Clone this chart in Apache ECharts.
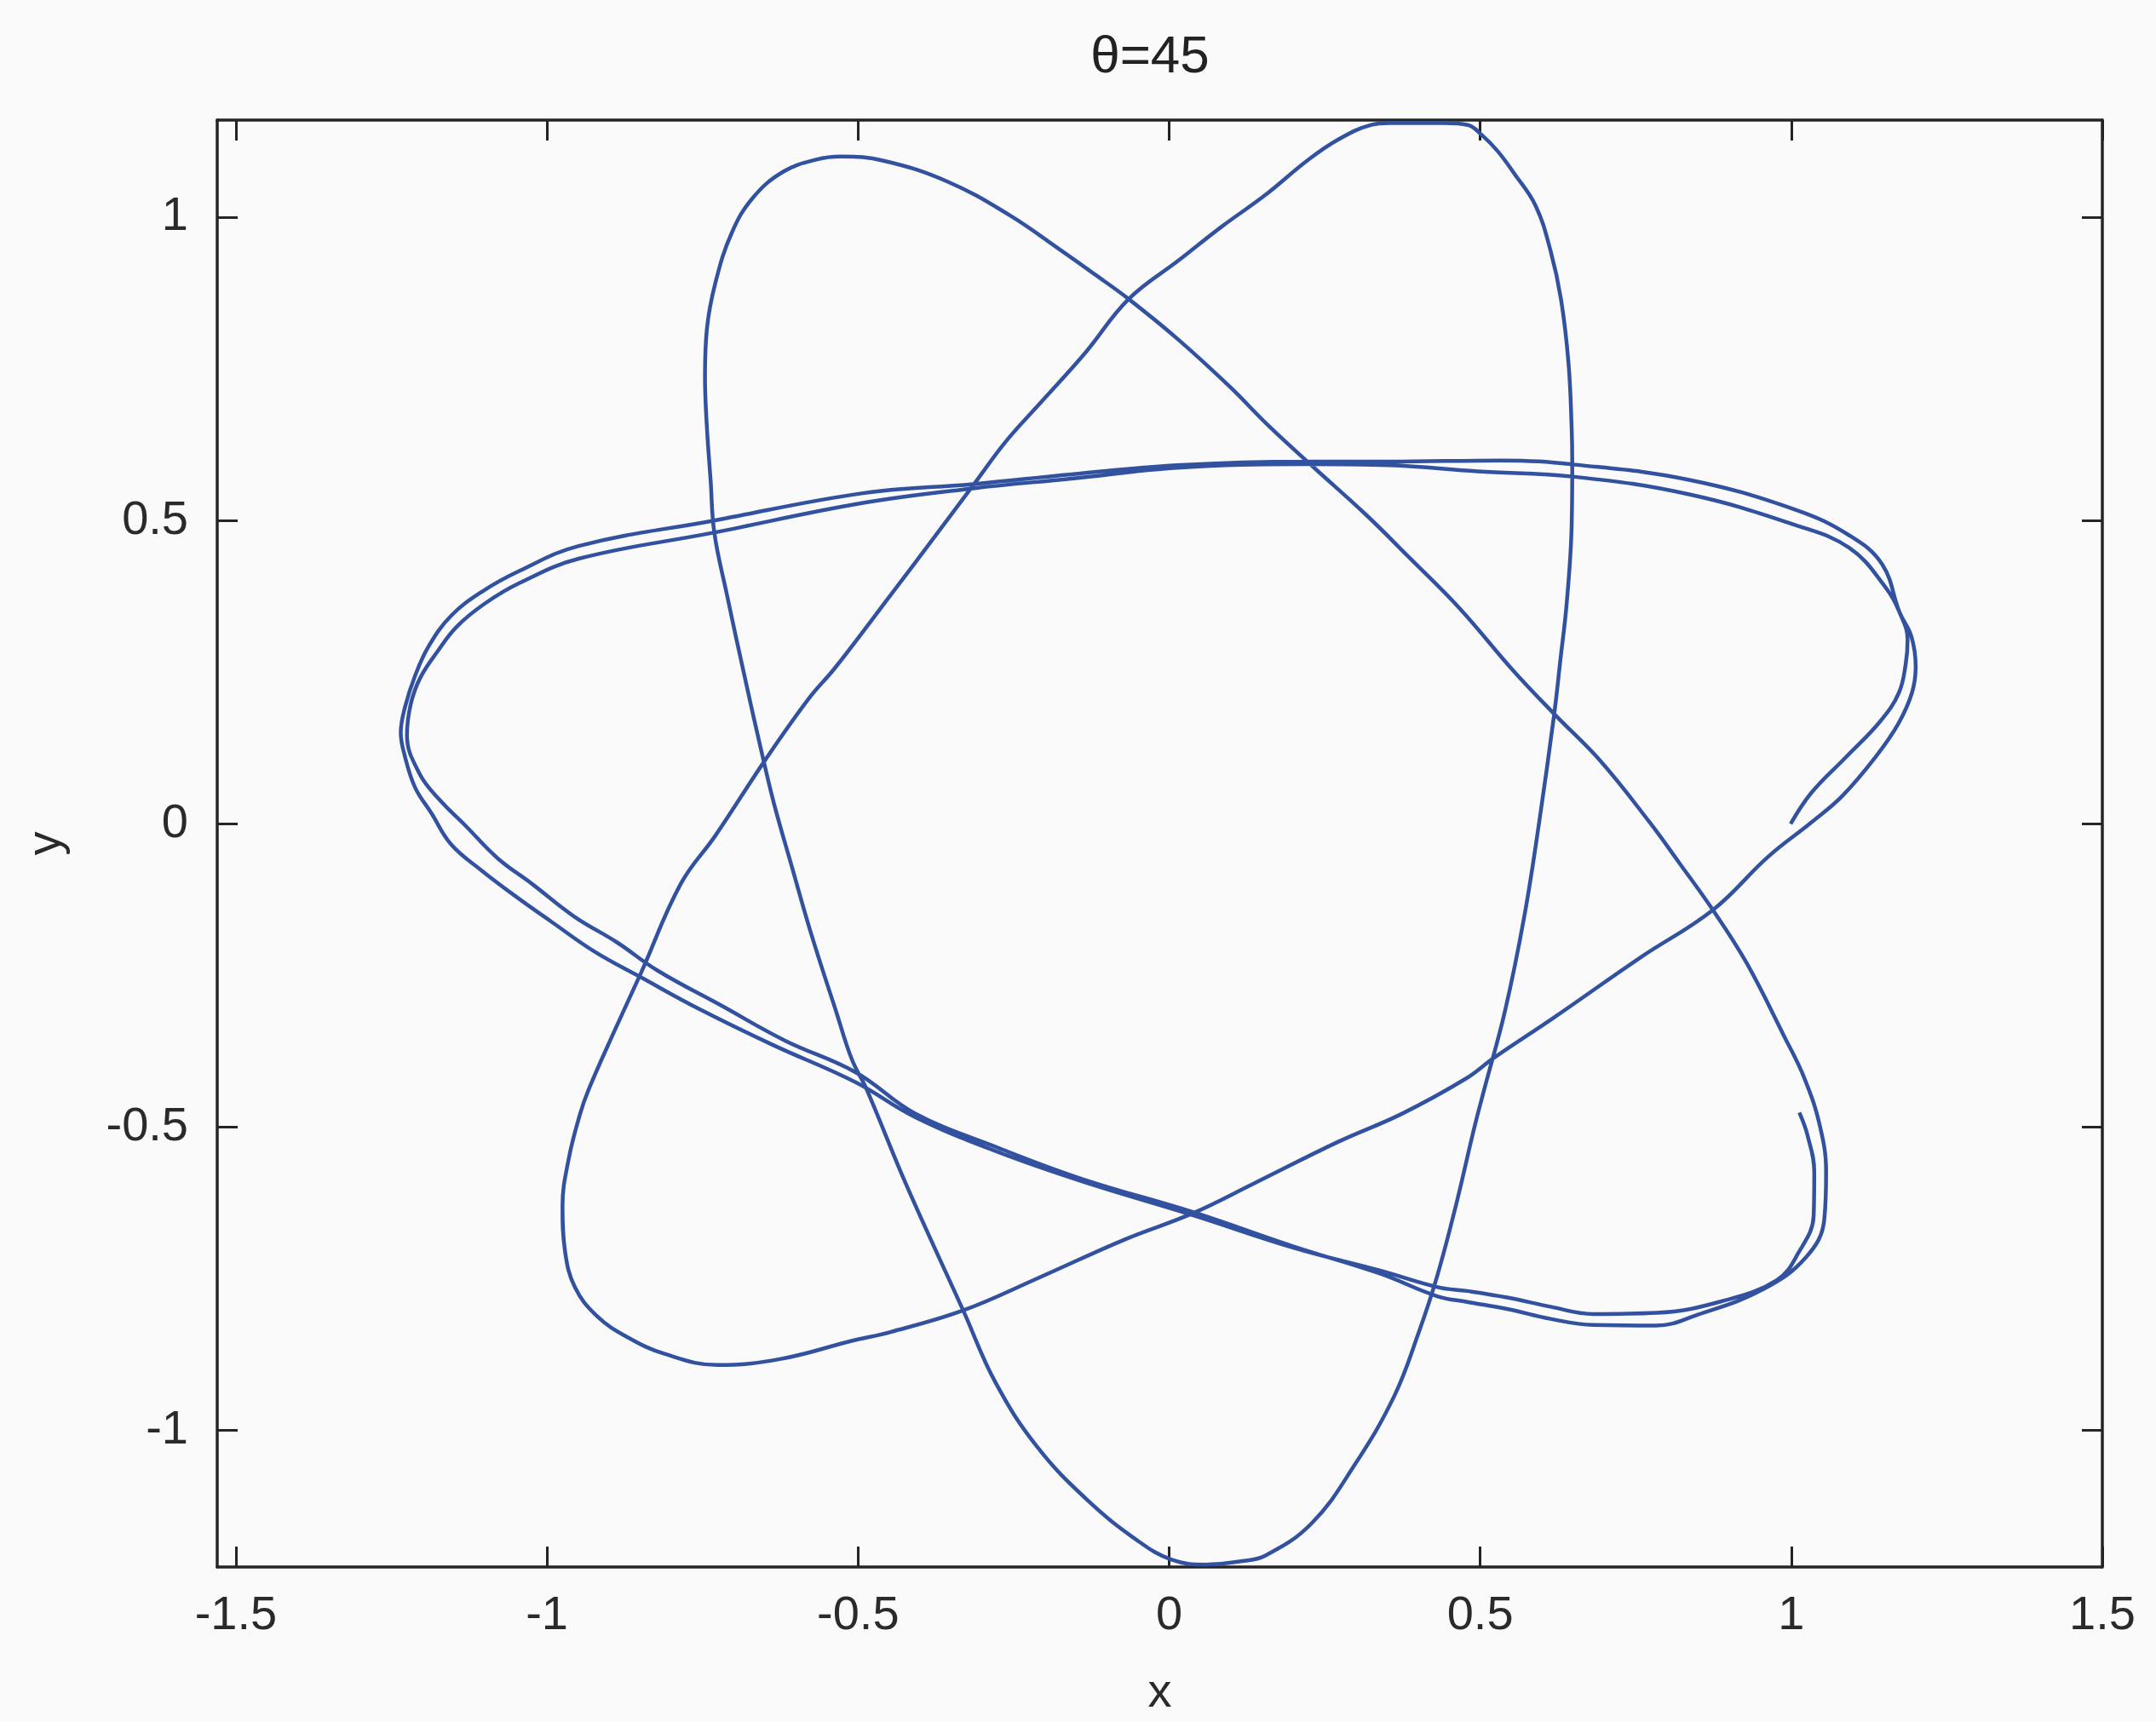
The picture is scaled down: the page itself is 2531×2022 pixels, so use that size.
<!DOCTYPE html>
<html>
<head>
<meta charset="utf-8">
<title>θ=45</title>
<script src="https://cdn.jsdelivr.net/npm/echarts@6/dist/echarts.min.js"></script>
<style>
  html, body { margin: 0; padding: 0; background: #fafafa; }
  #chart { width: 2531px; height: 2022px; }
</style>
</head>
<body>
<div id="chart"></div>
<script>
// Pendulum bob track in the horizontal plane, split into half-swings
// between consecutive turning points. Each entry is [x, y].
const swing0 = [[0.999, 0.000], [1.033, 0.052], [1.089, 0.111], [1.143, 0.169], [1.173, 0.216], [1.184, 0.264], [1.187, 0.304]];
const swing1 = [[1.176, 0.344], [1.150, 0.392], [1.093, 0.455], [1.005, 0.493], [0.836, 0.543], [0.652, 0.572], [0.496, 0.581], [0.354, 0.591], [0.217, 0.593], [0.013, 0.587], [-0.157, 0.569], [-0.315, 0.553], [-0.492, 0.529], [-0.732, 0.480], [-0.949, 0.437], [-1.044, 0.397], [-1.100, 0.363], [-1.145, 0.325], [-1.176, 0.284], [-1.204, 0.240], [-1.219, 0.197], [-1.225, 0.146]];
const swing2 = [[-1.205, 0.083], [-1.173, 0.040], [-1.131, -0.003], [-1.079, -0.057], [-1.024, -0.099], [-0.956, -0.153], [-0.888, -0.195], [-0.822, -0.242], [-0.719, -0.300], [-0.618, -0.357], [-0.503, -0.410], [-0.409, -0.477], [-0.275, -0.534], [-0.138, -0.586], [0.038, -0.640], [0.201, -0.697], [0.338, -0.741], [0.432, -0.779], [0.479, -0.788], [0.545, -0.800], [0.613, -0.816], [0.682, -0.826], [0.783, -0.827], [0.850, -0.809], [0.955, -0.767], [1.024, -0.714], [1.053, -0.653], [1.056, -0.574]];
const swing3 = [[1.046, -0.498], [1.021, -0.419], [0.988, -0.349], [0.928, -0.229], [0.874, -0.142], [0.819, -0.063], [0.772, 0.003], [0.693, 0.104], [0.619, 0.181], [0.551, 0.255], [0.468, 0.354], [0.385, 0.440], [0.317, 0.509], [0.232, 0.588], [0.162, 0.654], [0.097, 0.721], [0.015, 0.798], [-0.065, 0.865], [-0.120, 0.906], [-0.175, 0.946], [-0.256, 1.003], [-0.357, 1.059], [-0.459, 1.093], [-0.527, 1.100]];
const swing4 = [[-0.567, 1.095], [-0.620, 1.075], [-0.669, 1.032], [-0.703, 0.974], [-0.729, 0.893], [-0.743, 0.815], [-0.746, 0.736], [-0.743, 0.655], [-0.737, 0.567], [-0.731, 0.480], [-0.711, 0.379], [-0.683, 0.246], [-0.654, 0.114], [-0.635, 0.033], [-0.606, -0.072], [-0.576, -0.179], [-0.535, -0.310], [-0.510, -0.388], [-0.486, -0.438], [-0.422, -0.596], [-0.331, -0.802], [-0.279, -0.921], [-0.212, -1.027], [-0.131, -1.115], [-0.050, -1.182], [0.004, -1.213], [0.058, -1.221]];
const swing5 = [[0.113, -1.216], [0.155, -1.206], [0.229, -1.153], [0.298, -1.057], [0.362, -0.943], [0.401, -0.839], [0.431, -0.745], [0.461, -0.629], [0.491, -0.499], [0.507, -0.436], [0.540, -0.308], [0.571, -0.152], [0.595, 0.004], [0.619, 0.181], [0.629, 0.271], [0.639, 0.363], [0.647, 0.491], [0.648, 0.595], [0.647, 0.653], [0.642, 0.759], [0.630, 0.864], [0.613, 0.945], [0.589, 1.019], [0.554, 1.073], [0.528, 1.109], [0.502, 1.136], [0.480, 1.152], [0.442, 1.155]];
const swing6 = [[0.398, 1.155], [0.354, 1.155], [0.325, 1.152], [0.272, 1.128], [0.223, 1.094], [0.154, 1.036], [0.084, 0.984], [0.017, 0.930], [-0.065, 0.865], [-0.135, 0.776], [-0.204, 0.697], [-0.261, 0.632], [-0.315, 0.558], [-0.377, 0.473], [-0.447, 0.378], [-0.537, 0.257], [-0.578, 0.208], [-0.648, 0.107], [-0.729, -0.019], [-0.785, -0.099], [-0.849, -0.246], [-0.890, -0.338], [-0.933, -0.438], [-0.947, -0.479], [-0.965, -0.552], [-0.975, -0.630]];
const swing7 = [[-0.971, -0.704], [-0.955, -0.764], [-0.920, -0.811], [-0.871, -0.846], [-0.810, -0.874], [-0.726, -0.892], [-0.624, -0.882], [-0.509, -0.852], [-0.449, -0.838], [-0.331, -0.802], [-0.209, -0.748], [-0.071, -0.685], [0.038, -0.642], [0.134, -0.594], [0.272, -0.524], [0.374, -0.478], [0.477, -0.420], [0.523, -0.385], [0.619, -0.319], [0.758, -0.220], [0.874, -0.142], [0.963, -0.054], [1.033, 0.003], [1.082, 0.046], [1.136, 0.111], [1.172, 0.165], [1.194, 0.216], [1.200, 0.259], [1.193, 0.309]];
const swing8 = [[1.174, 0.349], [1.146, 0.428], [1.094, 0.475], [1.006, 0.518], [0.836, 0.567], [0.653, 0.592], [0.535, 0.599], [0.354, 0.597], [0.217, 0.597], [0.013, 0.591], [-0.157, 0.576], [-0.315, 0.560], [-0.492, 0.545], [-0.731, 0.500], [-0.949, 0.458], [-1.044, 0.417], [-1.104, 0.383], [-1.154, 0.343], [-1.190, 0.293], [-1.212, 0.244], [-1.228, 0.193], [-1.235, 0.150]];
const swing9 = [[-1.229, 0.114], [-1.212, 0.060], [-1.186, 0.018], [-1.154, -0.034], [-1.105, -0.077], [-1.051, -0.119], [-0.992, -0.162], [-0.923, -0.211], [-0.849, -0.253], [-0.754, -0.306], [-0.638, -0.364], [-0.504, -0.426], [-0.409, -0.483], [-0.275, -0.541], [-0.138, -0.590], [0.038, -0.645], [0.201, -0.699], [0.338, -0.736], [0.433, -0.764], [0.479, -0.770], [0.545, -0.781], [0.613, -0.796], [0.682, -0.808], [0.784, -0.806], [0.888, -0.787], [0.977, -0.752], [1.011, -0.708], [1.036, -0.646], [1.037, -0.574], [1.026, -0.513], [1.013, -0.476]];

// Axis ranges and tick positions
const xRange = [-1.53, 1.5];
const yRange = [-1.225, 1.16];
const xTicks = [-1.5, -1, -0.5, 0, 0.5, 1, 1.5];
const yTicks = [-1, -0.5, 0, 0.5, 1];

const titleText = 'θ=45';
const xName = 'x';
const yName = 'y';

const track = [].concat(swing0, swing1, swing2, swing3, swing4, swing5, swing6, swing7, swing8, swing9);

const FONT = '"Liberation Sans", Arial, Helvetica, sans-serif';
const INK = '#242424';
const axisLineStyle = { color: INK, width: 3.5 };

function boxAxis(position, ticks, range, withLabels) {
  return {
    type: 'value',
    position: position,
    min: range[0],
    max: range[1],
    axisLine: { show: true, onZero: false, lineStyle: axisLineStyle },
    axisTick: { show: true, inside: true, length: 24, customValues: ticks, lineStyle: { color: INK, width: 3 } },
    axisLabel: withLabels
      ? { show: true, customValues: ticks, fontSize: 56, color: '#2a2a2a', fontFamily: FONT }
      : { show: false },
    splitLine: { show: false }
  };
}

const xBottom = boxAxis('bottom', xTicks, xRange, true);
xBottom.axisLabel.margin = 30;
xBottom.name = xName;
xBottom.nameLocation = 'middle';
xBottom.nameGap = 121;
xBottom.nameTextStyle = { fontSize: 56, color: '#2a2a2a', fontFamily: FONT };

const yLeft = boxAxis('left', yTicks, yRange, true);
yLeft.axisLabel.margin = 34;
yLeft.name = yName;
yLeft.nameLocation = 'middle';
yLeft.nameGap = 172;
yLeft.nameTextStyle = { fontSize: 56, color: '#2a2a2a', fontFamily: FONT };

const chart = echarts.init(document.getElementById('chart'), null, { renderer: 'canvas' });
chart.setOption({
  backgroundColor: '#fafafa',
  animation: false,
  title: {
    text: titleText,
    left: 1345,
    top: 32,
    textAlign: 'center',
    textStyle: { fontSize: 62, fontWeight: 'normal', color: '#222', fontFamily: FONT }
  },
  grid: { left: 255, right: 63, top: 141, bottom: 167, containLabel: false },
  xAxis: [xBottom, boxAxis('top', xTicks, xRange, false)],
  yAxis: [yLeft, boxAxis('right', yTicks, yRange, false)],
  series: [{
    type: 'line',
    xAxisIndex: 0,
    yAxisIndex: 0,
    data: track,
    showSymbol: false,
    smooth: 0.4,
    clip: true,
    lineStyle: { color: '#3252a0', width: 4.5 }
  }]
});
</script>
</body>
</html>
